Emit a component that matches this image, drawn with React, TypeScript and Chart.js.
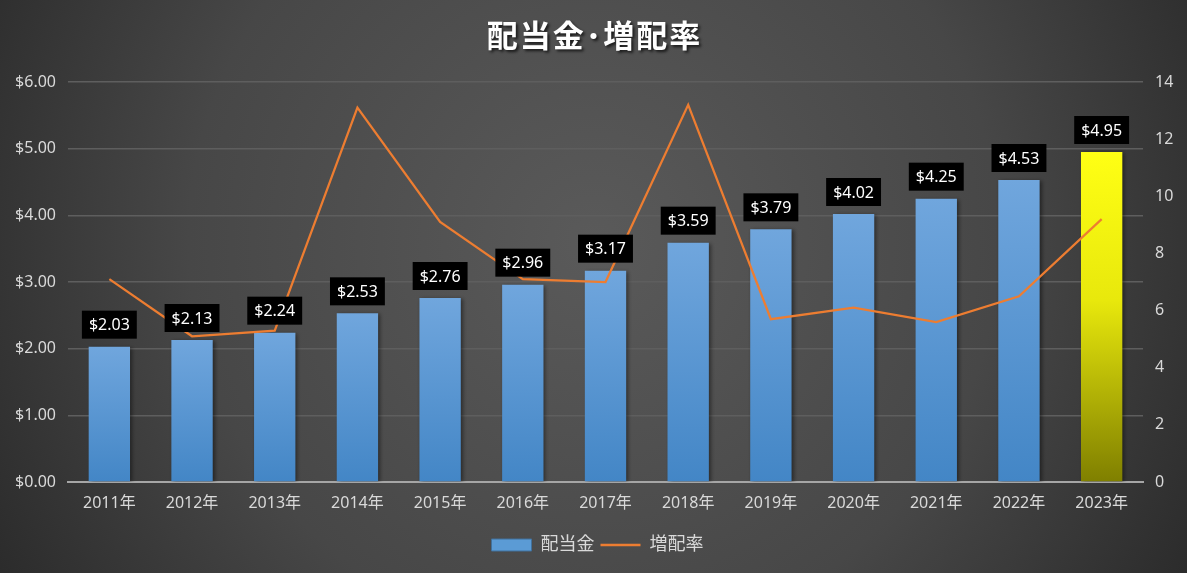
import { useEffect, useRef } from 'react'
import { Chart, ChartConfiguration, registerables } from 'chart.js'

Chart.register(...registerables)

// データ
const years = ['2011年', '2012年', '2013年', '2014年', '2015年', '2016年', '2017年', '2018年', '2019年', '2020年', '2021年', '2022年', '2023年']
const dividends = [2.03, 2.13, 2.24, 2.53, 2.76, 2.96, 3.17, 3.59, 3.79, 4.02, 4.25, 4.53, 4.95]
const growthRates = [7.1, 5.1, 5.3, 13.1, 9.1, 7.1, 7.0, 13.2, 5.7, 6.1, 5.6, 6.5, 9.2]
const highlightYear = '2023年'

const FONT = '"Noto Sans", "Noto Sans CJK JP", sans-serif'
const TITLE = '配当金･増配率'

const barFill = (ctx: any) => {
  const chart = ctx.chart
  const i = ctx.dataIndex
  const yScale = chart.scales?.y
  const highlight = years[i] === highlightYear
  if (!chart.chartArea || !yScale || i === undefined) return highlight ? '#e6e600' : '#5b9bd5'
  const top = yScale.getPixelForValue(dividends[i])
  const bottom = yScale.getPixelForValue(0)
  const g = chart.ctx.createLinearGradient(0, top, 0, bottom)
  if (highlight) {
    g.addColorStop(0, '#ffff14')
    g.addColorStop(0.45, '#e8e80c')
    g.addColorStop(1, '#7f7f00')
  } else {
    g.addColorStop(0, '#70a6dd')
    g.addColorStop(1, '#4386c6')
  }
  return g
}

// 背景とタイトル
const backgroundPlugin = {
  id: 'bg',
  beforeDraw(chart: Chart) {
    const { ctx, width, height } = chart
    ctx.save()
    const g = ctx.createRadialGradient(width / 2, height * 0.42, 0, width / 2, height * 0.42, width * 0.62)
    g.addColorStop(0, '#5a5a5a')
    g.addColorStop(0.55, '#474747')
    g.addColorStop(1, '#262626')
    ctx.fillStyle = g
    ctx.fillRect(0, 0, width, height)

    ctx.font = `bold 31px "Noto Sans CJK JP", sans-serif`
    ;(ctx as any).letterSpacing = '2px'
    ctx.textAlign = 'center'
    ctx.textBaseline = 'middle'
    ctx.shadowColor = 'rgba(0,0,0,0.7)'
    ctx.shadowOffsetX = 2
    ctx.shadowOffsetY = 2
    ctx.shadowBlur = 3
    ctx.fillStyle = '#ffffff'
    ctx.fillText(TITLE, width / 2 + 1, 35)
    ctx.restore()
  },
}

// 棒の影
const shadowPlugin = {
  id: 'barShadow',
  beforeDatasetDraw(chart: Chart, args: any) {
    if (args.index !== 0) return
    const ctx = chart.ctx
    ctx.save()
    ctx.shadowColor = 'rgba(0,0,0,0.45)'
    ctx.shadowOffsetX = 2
    ctx.shadowOffsetY = 1
    ctx.shadowBlur = 4
  },
  afterDatasetDraw(chart: Chart, args: any) {
    if (args.index !== 0) return
    chart.ctx.restore()
  },
}

// データラベル
const labelPlugin = {
  id: 'barLabels',
  afterDatasetsDraw(chart: Chart) {
    const ctx = chart.ctx
    const meta = chart.getDatasetMeta(0)
    ctx.save()
    ctx.font = `16px ${FONT}`
    ctx.textAlign = 'center'
    ctx.textBaseline = 'middle'
    meta.data.forEach((el: any, i: number) => {
      const text = `$${dividends[i].toFixed(2)}`
      const w = ctx.measureText(text).width + 14
      const h = 28
      const cy = el.y - 8 - h / 2
      ctx.fillStyle = '#000000'
      ctx.fillRect(el.x - w / 2, cy - h / 2, w, h)
      ctx.fillStyle = '#ffffff'
      ctx.fillText(text, el.x, cy + 1)
    })
    ctx.restore()
  },
}

export default function App() {
  const canvasRef = useRef<HTMLCanvasElement>(null)
  const chartRef = useRef<Chart | null>(null)

  useEffect(() => {
    document.body.style.margin = '0'
    if (!canvasRef.current) return
    const ctx = canvasRef.current.getContext('2d')
    if (!ctx) return
    chartRef.current?.destroy()

    const config: ChartConfiguration = {
      type: 'bar',
      data: {
        labels: years,
        datasets: [
          {
            type: 'bar',
            label: '配当金',
            data: dividends,
            backgroundColor: barFill,
            yAxisID: 'y',
            barPercentage: 0.5,
            categoryPercentage: 1,
            order: 1,
          },
          {
            type: 'line',
            label: '増配率',
            data: growthRates,
            borderColor: '#ed7d31',
            backgroundColor: '#ed7d31',
            borderWidth: 2.25,
            pointRadius: 0,
            tension: 0,
            yAxisID: 'y1',
            order: 0,
          } as any,
        ],
      },
      options: {
        animation: false,
        responsive: true,
        maintainAspectRatio: false,
        layout: { padding: { top: 82, left: 8, right: 0, bottom: 9 } },
        plugins: {
          title: { display: false },
          tooltip: { enabled: false },
          legend: {
            display: true,
            position: 'bottom',
            labels: {
              color: '#d9d9d9',
              font: { family: FONT, size: 18 },
              usePointStyle: true,
              pointStyleWidth: 40,
              boxHeight: 12,
              padding: 6,
              generateLabels: () => [
                { text: '配当金', fillStyle: '#5b9bd5', strokeStyle: '#41719c', lineWidth: 1, pointStyle: 'rect', hidden: false, datasetIndex: 0, fontColor: '#d9d9d9' },
                { text: '増配率', fillStyle: '#ed7d31', strokeStyle: '#ed7d31', lineWidth: 2.5, pointStyle: 'line', hidden: false, datasetIndex: 1, fontColor: '#d9d9d9' },
              ] as any,
            },
          },
        },
        scales: {
          x: {
            grid: { display: false, drawTicks: false },
            border: { display: true, color: '#a6a6a6', width: 2 },
            ticks: { color: '#d9d9d9', font: { family: FONT, size: 16 }, padding: 12, maxRotation: 0 },
            afterFit: (s: any) => { s.height = 48 },
          },
          y: {
            position: 'left',
            min: 0,
            max: 6,
            ticks: {
              stepSize: 1,
              color: '#d9d9d9',
              font: { family: FONT, size: 16 },
              padding: 12,
              callback: (v: any) => `$${Number(v).toFixed(2)}`,
            },
            grid: { color: '#5e5e5e', lineWidth: 1.5, drawTicks: false },
            border: { display: false },
            afterFit: (s: any) => { s.width = 60 },
          },
          y1: {
            position: 'right',
            min: 0,
            max: 14,
            ticks: {
              stepSize: 2,
              color: '#d9d9d9',
              font: { family: FONT, size: 16 },
              padding: 12,
            },
            grid: { display: false, drawTicks: false },
            border: { display: false },
            afterFit: (s: any) => { s.width = 44 },
          },
        },
      },
      plugins: [backgroundPlugin, shadowPlugin, labelPlugin],
    }

    chartRef.current = new Chart(ctx, config)
    return () => {
      chartRef.current?.destroy()
      chartRef.current = null
    }
  }, [])

  return (
    <div style={{ width: 1187, height: 573, position: 'relative' }}>
      <canvas ref={canvasRef} />
    </div>
  )
}
